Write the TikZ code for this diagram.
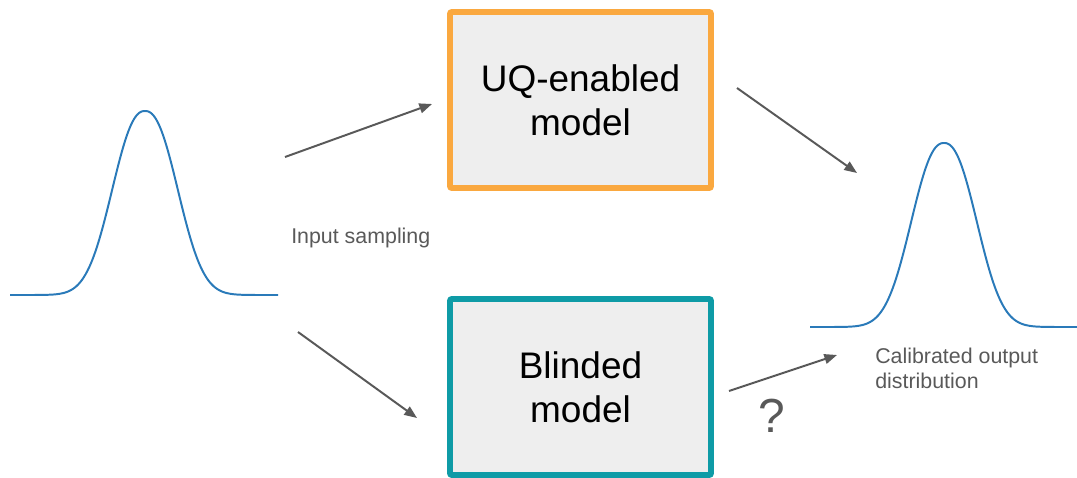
\documentclass[tikz,border=0pt]{standalone}
\usepackage{fontspec}
\setmainfont{Liberation Sans}
\usetikzlibrary{arrows.meta}

\definecolor{uqorange}{HTML}{FAA83F}
\definecolor{blindteal}{HTML}{0E9BA6}
\definecolor{boxgray}{HTML}{EEEEEE}
\definecolor{arrowgray}{HTML}{595959}
\definecolor{curveblue}{HTML}{2A7AB9}

\tikzset{
	model/.style={rectangle, rounded corners=1.5pt, fill=boxgray, line width=4.2pt,
		minimum width=6.525cm, minimum height=4.4cm, align=center,
		font=\fontsize{26.3}{31.3}\selectfont},
	flow/.style={arrowgray, line width=1.4pt, -{Triangle[length=9pt, width=7pt]}},
	bell/.style={curveblue, line width=1.4pt},
	note/.style={arrowgray, inner sep=0pt, font=\fontsize{15.2}{17.8}\selectfont}
}

\begin{document}
\begin{tikzpicture}[x=0.025cm, y=-0.025cm]
	\useasboundingbox (0,0) rectangle (1077,478);

	%% Eingangsverteilung
\begin{scope}[shift={(145,295)}]
	\draw[bell] plot[domain=-135:133, samples=150, smooth] (\x, {-184*exp(-0.5*((abs(\x)+0.01)/31.3)^2.3)});
\end{scope}

	%% Ausgangsverteilung
\begin{scope}[shift={(944,327)}]
	\draw[bell] plot[domain=-134:133, samples=150, smooth] (\x, {-184*exp(-0.5*((abs(\x)+0.01)/31.3)^2.3)});
\end{scope}

	%% Modelle
	\node[model, draw=uqorange] (uq) at (580.5,100) {UQ-enabled\\model};
	\node[model, draw=blindteal] (blind) at (580.5,387) {Blinded\\model};

	%% Beschriftungen
	\node[note, anchor=base west] (insamp) at (291,244) {Input sampling};
	\node[note, anchor=north west, align=left] (outdist) at (875,348) {Calibrated output\\distribution};
	\node[arrowgray, font=\fontsize{34}{40}\selectfont] (qmark) at (772,416) {?};

	%%%%%%%%%%%%%%%%

	%% Pfeile
	\coordinate (inup) at (285,157);
	\coordinate (uqin) at (432,104);
	\coordinate (indown) at (298,332);
	\coordinate (blindin) at (417,418);
	\coordinate (uqout) at (737,88);
	\coordinate (outup) at (857,173);
	\coordinate (blindout) at (729,391);
	\coordinate (outdown) at (837,355);

	\draw[flow] (inup) -- (uqin);
	\draw[flow] (indown) -- (blindin);
	\draw[flow] (uqout) -- (outup);
	\draw[flow] (blindout) -- (outdown);

\end{tikzpicture}
\end{document}
